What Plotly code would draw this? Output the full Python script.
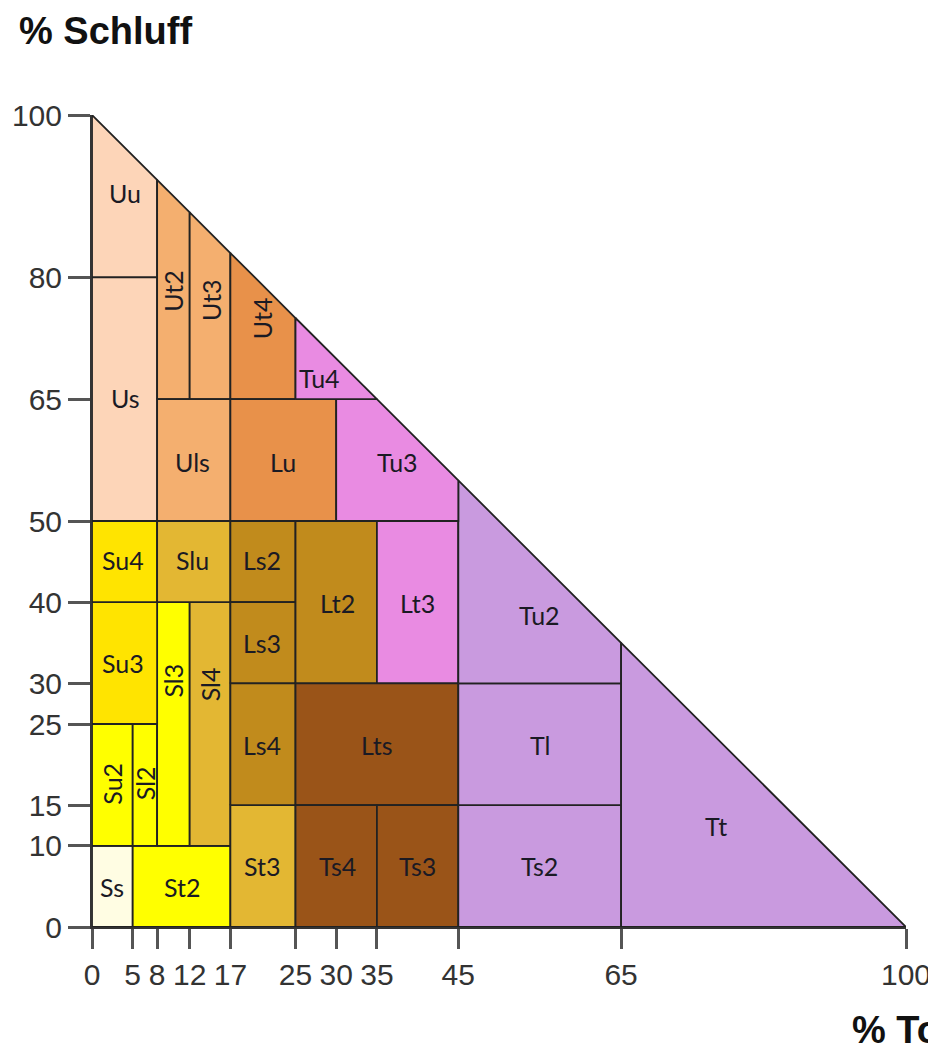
import plotly.graph_objects as go

# Bodenartendiagramm (KA5): Ton (x) gegen Schluff (y), jeweils in %
klassen = ['Ss', 'St2', 'Su2', 'Sl2', 'Sl3', 'Sl4', 'Su3', 'Su4', 'Slu',
           'St3', 'Ls2', 'Ls3', 'Ls4', 'Lt2', 'Lt3', 'Lts', 'Ts4', 'Ts3',
           'Ts2', 'Tl', 'Tu2', 'Tt', 'Uu', 'Us', 'Ut2', 'Ut3', 'Ut4', 'Uls',
           'Lu', 'Tu3', 'Tu4']
ton_von = [0, 5, 0, 5, 8, 12, 0, 0, 8, 17, 17, 17, 17, 25, 35, 25, 25, 35,
           45, 45, 45, 65, 0, 0, 8, 12, 17, 8, 17, 30, 25]
ton_bis = [5, 17, 5, 8, 12, 17, 8, 8, 17, 25, 25, 25, 25, 35, 45, 45, 35, 45,
           65, 65, 65, 100, 8, 8, 12, 17, 25, 17, 30, 45, 35]
schluff_von = [0, 0, 10, 10, 10, 10, 25, 40, 40, 0, 40, 30, 15, 30, 30, 15, 0, 0,
               0, 15, 30, 0, 80, 50, 65, 65, 65, 50, 50, 50, 65]
schluff_bis = [10, 10, 25, 25, 40, 40, 40, 50, 50, 15, 50, 40, 30, 50, 50, 30, 15, 15,
               15, 30, 55, 35, 100, 80, 92, 88, 83, 65, 65, 65, 75]
farben = ['#FFFDE3', '#FFFF00', '#FFFF00', '#FFFF00', '#FFFF00', '#E3B733', '#FFE400',
          '#FFE400', '#E3B733', '#E3B733', '#C18B1C', '#C18B1C', '#C18B1C', '#C18B1C',
          '#E98BE2', '#9A5418', '#9A5418', '#9A5418', '#C99ADF', '#C99ADF', '#C99ADF',
          '#C99ADF', '#FDD5B8', '#FDD5B8', '#F4AF6F', '#F4AF6F', '#E8914A', '#F4AF6F',
          '#E8914A', '#E98BE2', '#E98BE2']
# Lage der Beschriftung (Ton %, Schluff %) und ob senkrecht
label_ton = [2.5, 11, 2.5, 6.5, 10, 14.5, 3.8, 3.8, 12.4, 20.9, 20.9, 20.9, 20.9,
             30.1, 40, 35, 30.1, 40, 55, 55, 55, 76.7, 4.1, 4.1, 10, 14.6, 20.9,
             12.4, 23.5, 37.5, 28]
label_schluff = [4.9, 4.9, 17.7, 17.7, 30.4, 29.9, 32.5, 45.2, 45.2, 7.5, 45.2, 35,
                 22.4, 39.9, 39.9, 22.4, 7.5, 7.5, 7.5, 22.4, 38.4, 12.4, 90.4, 65.1,
                 78.4, 77.2, 75, 57.3, 57.3, 57.3, 67.6]
senkrecht = ['Su2', 'Sl2', 'Sl3', 'Sl4', 'Ut2', 'Ut3', 'Ut4']

x_ticks = [0, 5, 8, 12, 17, 25, 30, 35, 45, 65, 100]
y_ticks = [0, 10, 15, 25, 30, 40, 50, 65, 80, 100]


def clip_dreieck(punkte):
    # Rechteck an der Geraden Ton + Schluff = 100 abschneiden
    raus = []
    n = len(punkte)
    for i in range(n):
        a = punkte[i]
        b = punkte[(i + 1) % n]
        fa = 100 - a[0] - a[1]
        fb = 100 - b[0] - b[1]
        if fa >= 0:
            raus.append(a)
        if (fa >= 0) != (fb >= 0) and fa != fb:
            t = fa / (fa - fb)
            p = (a[0] + t * (b[0] - a[0]), a[1] + t * (b[1] - a[1]))
            if p not in raus:
                raus.append(p)
    return raus


fig = go.Figure()

for i, name in enumerate(klassen):
    rechteck = [(ton_von[i], schluff_von[i]), (ton_bis[i], schluff_von[i]),
                (ton_bis[i], schluff_bis[i]), (ton_von[i], schluff_bis[i])]
    poly = clip_dreieck(rechteck)
    xs = [p[0] for p in poly] + [poly[0][0]]
    ys = [p[1] for p in poly] + [poly[0][1]]
    fig.add_trace(go.Scatter(
        x=xs, y=ys, mode='lines', fill='toself', fillcolor=farben[i],
        line=dict(color='#222222', width=1.8), hoverinfo='text', text=name,
        showlegend=False
    ))

for i, name in enumerate(klassen):
    fig.add_annotation(
        x=label_ton[i], y=label_schluff[i], text=name, showarrow=False,
        textangle=-90 if name in senkrecht else 0,
        font=dict(family='Lato', size=25, color='#1a1a24')
    )

fig.add_annotation(
    xref='paper', yref='paper', x=-0.092, y=1.103, xanchor='left', yanchor='middle',
    text='<b>% Schluff</b>', showarrow=False,
    font=dict(family='Liberation Sans', size=38, color='#111111')
)
fig.add_annotation(
    xref='paper', yref='paper', x=0.931, y=-0.127, xanchor='left', yanchor='middle',
    text='<b>% Ton</b>', showarrow=False,
    font=dict(family='Liberation Sans', size=38, color='#111111')
)

achse = dict(
    range=[0, 100], showgrid=False, zeroline=False, showline=True, automargin=False,
    linecolor='#333333', linewidth=2, ticks='outside', tickwidth=2.5,
    tickcolor='#555555', tickfont=dict(family='Liberation Sans', size=30, color='#333333'),
    fixedrange=True
)

# die Seite hat 8 px Rand, daher l/t kleiner
fig.update_layout(
    width=936, height=1050,
    margin=dict(l=84, r=38, t=107, b=131),
    plot_bgcolor='white', paper_bgcolor='white',
    xaxis=dict(achse, tickvals=x_ticks, ticklen=20),
    yaxis=dict(achse, tickvals=y_ticks, ticklen=22),
)

fig.write_html("out.html")
